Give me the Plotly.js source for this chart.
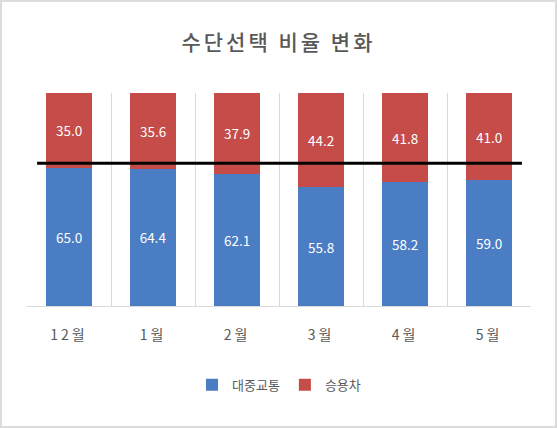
<!DOCTYPE html>
<html>
<head>
<meta charset="utf-8">
<script src="https://cdn.plot.ly/plotly-3.0.1.min.js"></script>
<style>
  body { margin: 0; background: #ffffff; }
  #chart { width: 557px; height: 428px; box-shadow: inset 0 0 0 2px #dcdcdc; }
  #chart .gtitle { letter-spacing: 3px; }
  #chart .xtick text { letter-spacing: 3px; }
</style>
</head>
<body>
<div id="chart"></div>
<script>
const months = ["12월", "1월", "2월", "3월", "4월", "5월"];
const transit = [65.0, 64.4, 62.1, 55.8, 58.2, 59.0];
const car = [35.0, 35.6, 37.9, 44.2, 41.8, 41.0];
const refLevel = 67;

const font = "'Noto Sans CJK KR', 'Noto Sans', sans-serif";

const traceTransit = {
    x: months,
    y: transit,
    name: "대중교통",
    type: "bar",
    marker: { color: "#4a7dc4" },
    texttemplate: "%{y:.1f}",
    textposition: "inside",
    insidetextanchor: "middle",
    textfont: { color: "#ffffff", size: 13.5 },
    hoverinfo: "skip"
};

const traceCar = {
    x: months,
    y: car,
    name: "승용차",
    type: "bar",
    marker: { color: "#c64c4a" },
    texttemplate: "%{y:.1f}",
    textposition: "inside",
    insidetextanchor: "middle",
    textfont: { color: "#ffffff", size: 13.5 },
    hoverinfo: "skip"
};

const layout = {
    width: 557,
    height: 428,
    margin: { l: 27, r: 26, t: 93, b: 122 },
    barmode: "stack",
    bargap: 0.445,
    font: { family: font, color: "#595959" },
    title: {
        text: "수단선택 비율 변화",
        font: { size: 21, color: "#595959", weight: 500 },
        x: 0.5,
        xanchor: "center",
        y: 0.9,
        yanchor: "middle"
    },
    xaxis: {
        type: "category",
        tickson: "boundaries",
        showgrid: true,
        gridcolor: "#d9d9d9",
        gridwidth: 1,
        showline: true,
        linecolor: "#d9d9d9",
        ticks: "",
        tickfont: { size: 14, color: "#595959" },
        ticklabelstandoff: 16
    },
    yaxis: {
        range: [0, 100],
        showgrid: false,
        zeroline: false,
        showticklabels: false,
        ticks: ""
    },
    legend: {
        orientation: "h",
        x: 0.5,
        xanchor: "center",
        y: -0.37,
        yanchor: "middle",
        font: { size: 13, color: "#595959" },
        itemwidth: 30,
        traceorder: "normal"
    },
    shapes: [{
        type: "line",
        xref: "paper",
        yref: "y",
        x0: 0.02,
        x1: 0.982,
        y0: refLevel,
        y1: refLevel,
        line: { color: "#000000", width: 3 }
    }],
    paper_bgcolor: "rgba(0,0,0,0)",
    plot_bgcolor: "#ffffff"
};

Plotly.newPlot("chart", [traceTransit, traceCar], layout, { displayModeBar: false, staticPlot: true });
</script>
</body>
</html>
